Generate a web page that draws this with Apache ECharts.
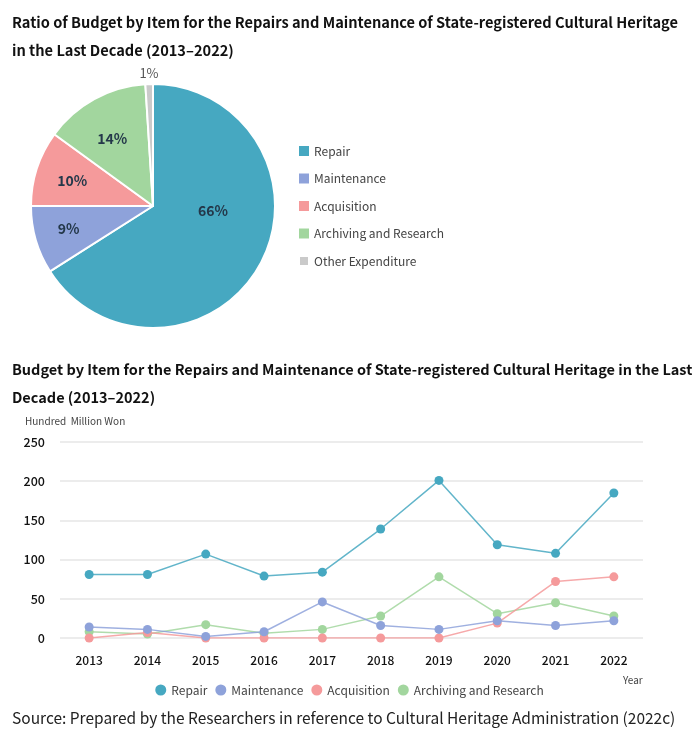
<!DOCTYPE html>
<html>
<head>
<meta charset="utf-8">
<script src="https://cdn.jsdelivr.net/npm/echarts@6/dist/echarts.min.js"></script>
<style>html,body{margin:0;padding:0;background:#fff;}#c{width:699px;height:740px;}</style>
</head>
<body>
<div id="c"></div>
<script>
const pieNames = ['Repair', 'Maintenance', 'Acquisition', 'Archiving and Research', 'Other Expenditure'];
const pieValues = [66, 9, 10, 14, 1];
const years = ['2013','2014','2015','2016','2017','2018','2019','2020','2021','2022'];
const repair = [81, 81, 107, 79, 84, 139, 201, 119, 108, 185];
const maintenance = [14, 11, 2, 8, 46, 16, 11, 22, 16, 22];
const acquisition = [0, 7, 0, 0, 0, 0, 0, 19, 72, 78];
const archiving = [8, 5, 17, 6, 11, 28, 78, 31, 45, 28];
const lineNames = ['Repair', 'Maintenance', 'Acquisition', 'Archiving and Research'];
const colors = ['#46a8c1', '#8ea2da', '#f59a9b', '#a2d69e', '#cacaca'];
const labelShift = [[4,-26],[-23,5],[-20,-6],[-10,-11],[-2,-69]];

const FONT = '"Noto Sans CJK KR", "Noto Sans", sans-serif';
const chart = echarts.init(document.getElementById('c'));
const lineData = [repair, maintenance, acquisition, archiving];

chart.setOption({
  animation: false,
  textStyle: { fontFamily: FONT },
  title: [
    { text: 'Ratio of Budget by Item for the Repairs and Maintenance of State-registered Cultural Heritage\nin the Last Decade (2013\u20132022)',
      left: 12, top: 8, padding: 0, textStyle: { fontFamily: FONT, fontSize: 14.6, fontWeight: 'bold', color: '#111', lineHeight: 28 } },
    { text: 'Budget by Item for the Repairs and Maintenance of State-registered Cultural Heritage in the Last\nDecade (2013\u20132022)',
      left: 12, top: 355, padding: 0, textStyle: { fontFamily: FONT, fontSize: 14.5, fontWeight: 'bold', color: '#111', lineHeight: 28 } },
    { text: 'Hundred  Million Won', left: 25, top: 416, padding: 0, textStyle: { fontFamily: FONT, fontSize: 10, fontWeight: 'normal', color: '#444' } },
    { text: 'Year', left: 623, top: 675, padding: 0, textStyle: { fontFamily: FONT, fontSize: 10, fontWeight: 'normal', color: '#444' } },
    { text: 'Source: Prepared by the Researchers in reference to Cultural Heritage Administration (2022c)',
      left: 12, top: 710, padding: 0, textStyle: { fontFamily: FONT, fontSize: 15.5, fontWeight: 'normal', color: '#222' } }
  ],
  legend: [
    { data: pieNames, orient: 'vertical', left: 293, top: 140, itemGap: 15.5, itemWidth: 10, itemHeight: 10, icon: 'rect',
      selectedMode: false, textStyle: { fontFamily: FONT, fontSize: 12, color: '#444' } },
    { data: lineNames, orient: 'horizontal', left: 'center', top: 679, itemGap: 8, itemWidth: 11, itemHeight: 11, icon: 'circle',
      selectedMode: false, textStyle: { fontFamily: FONT, fontSize: 12, color: '#444' } }
  ],
  grid: { left: 60, right: 56, top: 442, bottom: 102 },
  xAxis: {
    type: 'category', data: years, boundaryGap: true,
    axisLine: { show: false }, axisTick: { show: false },
    axisLabel: { fontFamily: FONT, fontSize: 12, fontWeight: 500, color: '#111', margin: 16 }
  },
  yAxis: {
    type: 'value', min: 0, max: 250, interval: 50,
    axisLine: { show: false }, axisTick: { show: false },
    axisLabel: { fontFamily: FONT, fontSize: 12.5, fontWeight: 500, color: '#111', margin: 15 },
    splitLine: { lineStyle: { color: '#e6e6e6', width: 1.5 } }
  },
  series: [
    {
      type: 'pie', center: [153, 206], radius: [0, 122], startAngle: 90, clockwise: true,
      avoidLabelOverlap: false,
      itemStyle: { borderColor: '#fff', borderWidth: 2 },
      label: { show: true, position: 'inside', formatter: '{d}%', fontFamily: FONT, fontSize: 14, fontWeight: 'bold', color: '#24384a' },
      labelLine: { show: false },
      labelLayout: function (p) { const s = labelShift[p.dataIndex]; return { dx: s[0], dy: s[1] }; },
      emphasis: { disabled: true },
      data: pieNames.map((n, i) => ({ name: n, value: pieValues[i], itemStyle: { color: colors[i] },
        label: i === 4 ? { color: '#555', fontWeight: 'normal', fontSize: 13 } : undefined }))
    },
    ...lineNames.map((n, i) => ({
      type: 'line', name: n, data: lineData[i], symbol: 'circle', symbolSize: 9,
      itemStyle: { color: colors[i] },
      lineStyle: { color: colors[i], width: 1.5, opacity: 0.85 },
      z: 10 - i
    }))
  ]
});
</script>
</body>
</html>
